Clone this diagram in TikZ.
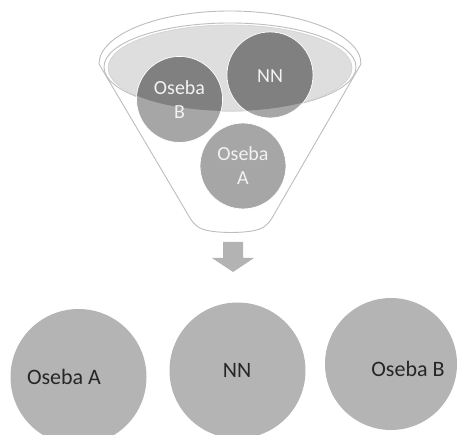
\documentclass[tikz,border=0pt]{standalone}
\usepackage{fontspec}
\setmainfont{Carlito}
\usetikzlibrary{calc}
\definecolor{rimgray}{HTML}{BDBDBD}
\definecolor{surface}{HTML}{DEDEDE}
\definecolor{ballA}{HTML}{A6A6A6}
\definecolor{ballDark}{HTML}{808080}
\definecolor{bigball}{HTML}{B4B4B4}
\definecolor{arrowgray}{HTML}{B3B3B3}
\definecolor{lighttext}{HTML}{F2F2F2}
\definecolor{darktext}{HTML}{262626}
\begin{document}
\begin{tikzpicture}[x=1pt,y=-1pt,
  rim/.style={draw=rimgray,line width=0.9pt},
  ball/.style={circle,fill=ballA,draw=white,line width=0.8pt,minimum size=86pt,inner sep=0pt},
  bigcircle/.style={circle,fill=bigball,minimum size=136pt,inner sep=0pt},
  balltext/.style={font=\fontsize{20}{24}\selectfont,text=lighttext,align=center,inner sep=0pt},
  bigtext/.style={font=\fontsize{22}{26}\selectfont,text=darktext,inner sep=0pt}]
\useasboundingbox (0,0) rectangle (457,435);
\clip (0,0) rectangle (457,435);
% funnel body
\path[rim,fill=white] (99,64) -- (190,218) .. controls (195,226) and (199,229) .. (210,231)
  .. controls (222,233) and (240,233) .. (252,231) .. controls (263,229) and (267,226) .. (272,218)
  -- (361,64) arc[start angle=0,end angle=-180,x radius=131,y radius=53] -- cycle;
% inner rim
\path[rim,fill=white] (230,67) ellipse[x radius=126,y radius=44];
% liquid surface
\path[fill=surface,draw=rimgray!70,line width=0.6pt] (230,68) ellipse[x radius=122,y radius=43];
% balls in the funnel
\node[ball] (bB) at (179.5,99.5) {};
\node[ball] (bN) at (270,75) {};
\node[ball] (bA) at (243,166) {};
\begin{scope}
  \clip (230,68) ellipse[x radius=122,y radius=43];
  \fill[ballDark] (bB) circle[radius=42.5pt];
  \fill[ballDark] (bN) circle[radius=42.5pt];
\end{scope}
\node[balltext] (tB) at (bB) {Oseba\\B};
\node[balltext] (tN) at ($(bN)+(0,1)$) {NN};
\node[balltext] (tA) at (bA) {Oseba\\A};
% arrow
\fill[arrowgray] (223,242) -- (243,242) -- (243,258) -- (254,258) -- (233,272) -- (212,258) -- (223,258) -- cycle;
% result circles
\node[bigcircle] (cA) at (78.5,377) {};
\node[bigcircle] (cN) at (237.5,370.5) {};
\node[bigcircle,minimum size=132pt] (cB) at (391,364) {};
\node[bigtext] (lA) at (64,377) {Oseba A};
\node[bigtext] (lN) at (237,370) {NN};
\node[bigtext] (lB) at (408,369) {Oseba B};
\end{tikzpicture}
\end{document}
